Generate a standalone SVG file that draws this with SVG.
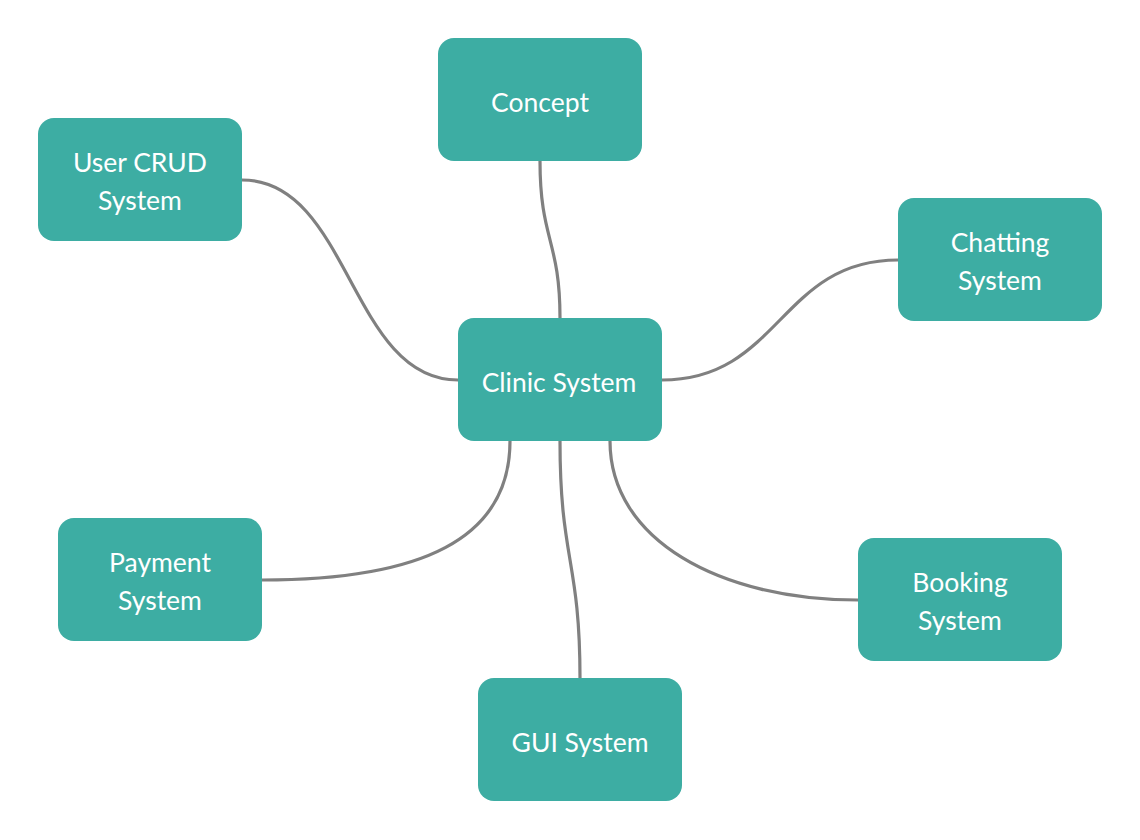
<svg xmlns="http://www.w3.org/2000/svg" width="1140" height="840" viewBox="0 0 1140 840">
<style>
.node rect{fill:#3dada3}
.node text{fill:#ffffff;font-family:Lato,"Liberation Sans",sans-serif;font-size:26.5px;text-anchor:middle}
.edge{fill:none;stroke:#808080;stroke-width:3.2;stroke-linecap:round}
</style>
<rect width="1140" height="840" fill="#ffffff"/>
<g id="connectors">
<path class="edge" d="M540,161 C540,240 560,240 560,318"/>
<path class="edge" d="M242,180 C350,180 350,380 458,380"/>
<path class="edge" d="M662,380 C780,380 780,260 898,260"/>
<path class="edge" d="M510,441 C510,540 420,580 262,580"/>
<path class="edge" d="M560,441 C560,560 580,560 580,678"/>
<path class="edge" d="M610,441 C610,540 720,600 858,600"/>
</g>
<g id="concept" class="node"><rect x="438" y="38" width="204" height="123" rx="16"/><text x="540" y="112">Concept</text></g>
<g id="user-crud" class="node"><rect x="38" y="118" width="204" height="123" rx="16"/><text x="140" y="172">User CRUD</text><text x="140" y="210">System</text></g>
<g id="chatting" class="node"><rect x="898" y="198" width="204" height="123" rx="16"/><text x="1000" y="252">Chatting</text><text x="1000" y="290">System</text></g>
<g id="clinic" class="node"><rect x="458" y="318" width="204" height="123" rx="16"/><text x="559" y="392">Clinic System</text></g>
<g id="payment" class="node"><rect x="58" y="518" width="204" height="123" rx="16"/><text x="160" y="572">Payment</text><text x="160" y="610">System</text></g>
<g id="booking" class="node"><rect x="858" y="538" width="204" height="123" rx="16"/><text x="960" y="592">Booking</text><text x="960" y="630">System</text></g>
<g id="gui" class="node"><rect x="478" y="678" width="204" height="123" rx="16"/><text x="580" y="752">GUI System</text></g>
</svg>
